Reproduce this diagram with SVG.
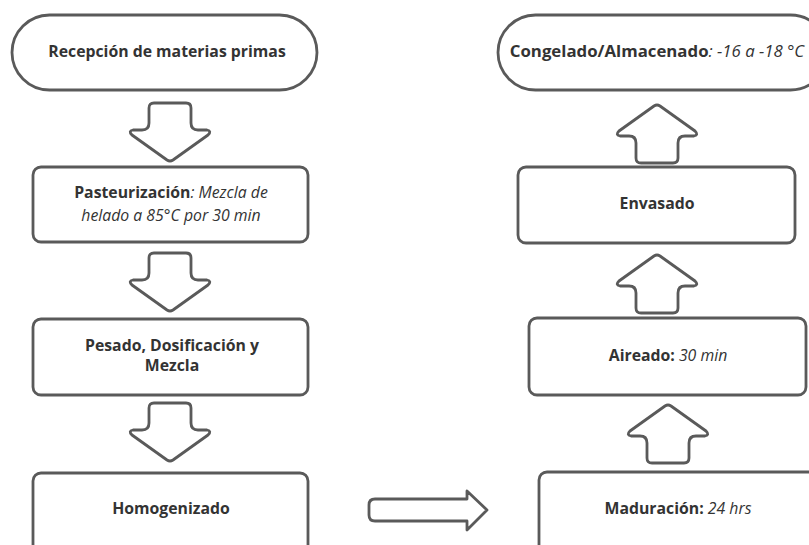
<svg xmlns="http://www.w3.org/2000/svg" width="809" height="545" viewBox="0 0 809 545">
<style>
.box{fill:#fff;stroke:#5a5a5a;stroke-width:2.8}
.arr{fill:#fff;stroke:#5a5a5a;stroke-width:2.8;stroke-linejoin:round}
text{font-family:"Open Sans","Noto Sans","DejaVu Sans",sans-serif;font-size:15.8px;fill:#333;text-anchor:middle}
.b{font-weight:bold}
.i{font-style:italic;font-weight:normal}
</style>
<defs>
<path id="darr" d="M-21,5 Q-21,0 -16,0 H16 Q21,0 21,5 V20 Q21,27 28,27 H37 Q42,28 38,32 L3,57 Q0,59 -3,57 L-38,32 Q-42,28 -37,27 H-28 Q-21,27 -21,20 Z"/>
</defs>
<rect width="809" height="545" fill="#fff"/>
<g id="connectors">
<use href="#darr" class="arr" transform="translate(170,103)"/>
<use href="#darr" class="arr" transform="translate(170,253)"/>
<use href="#darr" class="arr" transform="translate(170,403)"/>
<use href="#darr" class="arr" transform="translate(657,163) scale(1,-1)"/>
<use href="#darr" class="arr" transform="translate(657,313) scale(1,-1)"/>
<use href="#darr" class="arr" transform="translate(668,463) scale(1,-1)"/>
<path class="arr" d="M375,499 H467 V491 L487,510 L467,530 V521 H375 Q369,521 369,515 V505 Q369,499 375,499 Z"/>
</g>
<g id="n1">
<rect class="box" x="12" y="15" width="305" height="75" rx="37.5"/>
<text x="167" y="57" class="b">Recepción de materias primas</text>
</g>
<g id="n2">
<rect class="box" x="33" y="167" width="275" height="75" rx="8"/>
<text x="171" y="198"><tspan class="b">Pasteurización</tspan><tspan class="i">: Mezcla de</tspan></text>
<text x="171" y="221" class="i">helado a 85°C por 30 min</text>
</g>
<g id="n3">
<rect class="box" x="33" y="319" width="275" height="76" rx="8"/>
<text x="172" y="351" class="b">Pesado, Dosificación y</text>
<text x="172" y="371" class="b">Mezcla</text>
</g>
<g id="n4">
<rect class="box" x="33" y="473" width="275" height="90" rx="8"/>
<text x="171" y="514" class="b">Homogenizado</text>
</g>
<g id="n5">
<rect class="box" x="539" y="472" width="290" height="90" rx="8"/>
<text x="678" y="514"><tspan class="b">Maduración:</tspan><tspan class="i"> 24 hrs</tspan></text>
</g>
<g id="n6">
<rect class="box" x="529" y="318" width="277" height="77" rx="8"/>
<text x="668" y="361"><tspan class="b">Aireado:</tspan><tspan class="i"> 30 min</tspan></text>
</g>
<g id="n7">
<rect class="box" x="518" y="167" width="277" height="76" rx="8"/>
<text x="657" y="209" class="b">Envasado</text>
</g>
<g id="n8">
<rect class="box" x="498" y="15" width="330" height="75" rx="37.5"/>
<text x="657" y="57" style="font-size:16.8px"><tspan class="b">Congelado/Almacenado</tspan><tspan class="i">: -16 a -18 °C</tspan></text>
</g>
</svg>
